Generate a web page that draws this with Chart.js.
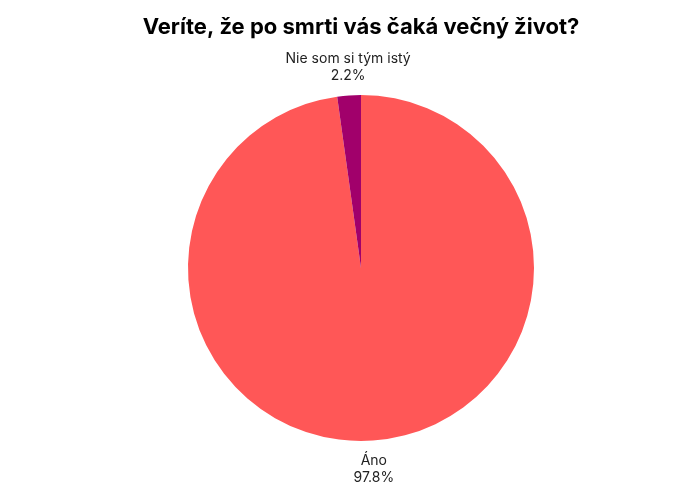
<!DOCTYPE html>
<html>
<head>
<meta charset="utf-8">
<script src="https://cdn.jsdelivr.net/npm/chart.js@4"></script>
<style>
  html, body { margin:0; padding:0; background:#fff; }
  #wrap { width:700px; height:500px; }
</style>
</head>
<body>
<div id="wrap"><canvas id="c" width="700" height="500"></canvas></div>
<script>
// chart data
const titleText = 'Veríte, že po smrti vás čaká večný život?';
const labels = ['Áno', 'Nie som si tým istý'];
const values = [97.8, 2.2];
const colors = ['#FF5757', '#A1006B'];

// draws title + outside labels
const labelPlugin = {
  id: 'outLabels',
  afterDraw(chart) {
    const c = chart.ctx;
    c.save();
    c.fillStyle = '#000';
    c.textAlign = 'center';
    c.textBaseline = 'alphabetic';
    c.font = 'bold 22px Inter, "Open Sans", sans-serif';
    c.fillText(titleText, 361, 34);

    c.font = '14px Inter, "Open Sans", sans-serif';
    c.fillStyle = '#222';
    const meta = chart.getDatasetMeta(0);
    meta.data.forEach((arc, i) => {
      const p = arc.getProps(['x','y','startAngle','endAngle','outerRadius'], true);
      const mid = (p.startAngle + p.endAngle) / 2;
      const top = Math.sin(mid) < 0;
      const r = p.outerRadius + 13;
      const x = p.x + Math.cos(mid) * r;
      const y = p.y + Math.sin(mid) * r;
      c.textBaseline = top ? 'bottom' : 'top';
      if (top) {
        c.fillText(labels[i], x, y - 17);
        c.fillText(values[i].toFixed(1) + '%', x, y);
      } else {
        c.fillText(labels[i], x, y);
        c.fillText(values[i].toFixed(1) + '%', x, y + 17);
      }
    });
    c.restore();
  }
};

new Chart(document.getElementById('c'), {
  type: 'pie',
  data: {
    labels: labels,
    datasets: [{ data: values, backgroundColor: colors, borderWidth: 0 }]
  },
  options: {
    responsive: false,
    animation: false,
    layout: { padding: { top: 95, bottom: 59, left: 188, right: 166 } },
    plugins: {
      legend: { display: false },
      title: { display: false },
      tooltip: { enabled: false }
    }
  },
  plugins: [labelPlugin]
});
</script>
</body>
</html>
